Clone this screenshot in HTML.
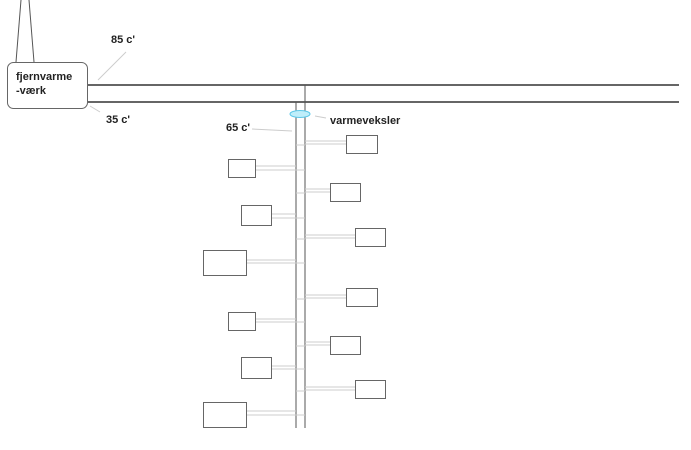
<!DOCTYPE html>
<html><head><meta charset="utf-8"><style>
html,body{margin:0;padding:0;background:#fff;width:691px;height:450px;overflow:hidden}
text{font-family:"Liberation Sans","DejaVu Sans",sans-serif;font-weight:bold;font-size:11px;fill:#222}
</style></head><body>
<svg width="691" height="450" viewBox="0 0 691 450" xmlns="http://www.w3.org/2000/svg">
<g stroke="#555" stroke-width="1" fill="none">
<line x1="16" y1="62" x2="21" y2="0"/><line x1="34" y1="62" x2="29" y2="0"/>
</g>
<rect x="7.5" y="62.5" width="80" height="46" rx="6" fill="#fff" stroke="#666"/>
<text x="16" y="80">fjernvarme</text><text x="16" y="94">-værk</text>
<line x1="88" y1="85" x2="679" y2="85" stroke="#333" stroke-width="1.5"/>
<line x1="88" y1="102" x2="679" y2="102" stroke="#333" stroke-width="1.5"/>
<g stroke="#ccc" stroke-width="1">
<line x1="98" y1="80" x2="126" y2="52"/><line x1="90" y1="106" x2="100" y2="112"/>
<line x1="252" y1="129" x2="292" y2="131"/><line x1="315" y1="116" x2="326" y2="118"/>
</g>
<text x="111" y="43">85 c'</text><text x="106" y="123">35 c'</text>
<text x="226" y="131">65 c'</text><text x="330" y="124">varmeveksler</text>
<line x1="296" y1="102" x2="296" y2="428" stroke="#555"/>
<line x1="305" y1="85" x2="305" y2="428" stroke="#555"/>
<ellipse cx="300" cy="114" rx="10" ry="3.5" fill="#bfeefa" stroke="#5cc8e8"/>
<g stroke="#ccc" stroke-width="1">
<!-- right connectors -->
<line x1="305" y1="141" x2="346" y2="141"/><line x1="305" y1="144" x2="346" y2="144"/><line x1="296" y1="145" x2="305" y2="145"/>
<line x1="305" y1="189" x2="330" y2="189"/><line x1="305" y1="192" x2="330" y2="192"/><line x1="296" y1="193" x2="305" y2="193"/>
<line x1="305" y1="235" x2="355" y2="235"/><line x1="305" y1="238" x2="355" y2="238"/><line x1="296" y1="239" x2="305" y2="239"/>
<line x1="305" y1="295" x2="346" y2="295"/><line x1="305" y1="298" x2="346" y2="298"/><line x1="296" y1="299" x2="305" y2="299"/>
<line x1="305" y1="342" x2="330" y2="342"/><line x1="305" y1="345" x2="330" y2="345"/><line x1="296" y1="346" x2="305" y2="346"/>
<line x1="305" y1="387" x2="355" y2="387"/><line x1="305" y1="390" x2="355" y2="390"/><line x1="296" y1="391" x2="305" y2="391"/>
<!-- left connectors -->
<line x1="255" y1="166" x2="296" y2="166"/><line x1="255" y1="170" x2="296" y2="170"/><line x1="296" y1="170" x2="305" y2="170"/>
<line x1="271" y1="214" x2="296" y2="214"/><line x1="271" y1="218" x2="296" y2="218"/><line x1="296" y1="218" x2="305" y2="218"/>
<line x1="246" y1="260" x2="296" y2="260"/><line x1="246" y1="263" x2="296" y2="263"/><line x1="296" y1="263" x2="305" y2="263"/>
<line x1="255" y1="319" x2="296" y2="319"/><line x1="255" y1="322" x2="296" y2="322"/><line x1="296" y1="322" x2="305" y2="322"/>
<line x1="271" y1="366" x2="296" y2="366"/><line x1="271" y1="369" x2="296" y2="369"/><line x1="296" y1="369" x2="305" y2="369"/>
<line x1="246" y1="411" x2="296" y2="411"/><line x1="246" y1="415" x2="296" y2="415"/><line x1="296" y1="415" x2="305" y2="415"/>
</g>
<g fill="#fff" stroke="#666" stroke-width="1">
<rect x="346.5" y="135.5" width="31" height="18"/>
<rect x="330.5" y="183.5" width="30" height="18"/>
<rect x="355.5" y="228.5" width="30" height="18"/>
<rect x="346.5" y="288.5" width="31" height="18"/>
<rect x="330.5" y="336.5" width="30" height="18"/>
<rect x="355.5" y="380.5" width="30" height="18"/>
<rect x="228.5" y="159.5" width="27" height="18"/>
<rect x="241.5" y="205.5" width="30" height="20"/>
<rect x="203.5" y="250.5" width="43" height="25"/>
<rect x="228.5" y="312.5" width="27" height="18"/>
<rect x="241.5" y="357.5" width="30" height="21"/>
<rect x="203.5" y="402.5" width="43" height="25"/>
</g>
</svg>
</body></html>
